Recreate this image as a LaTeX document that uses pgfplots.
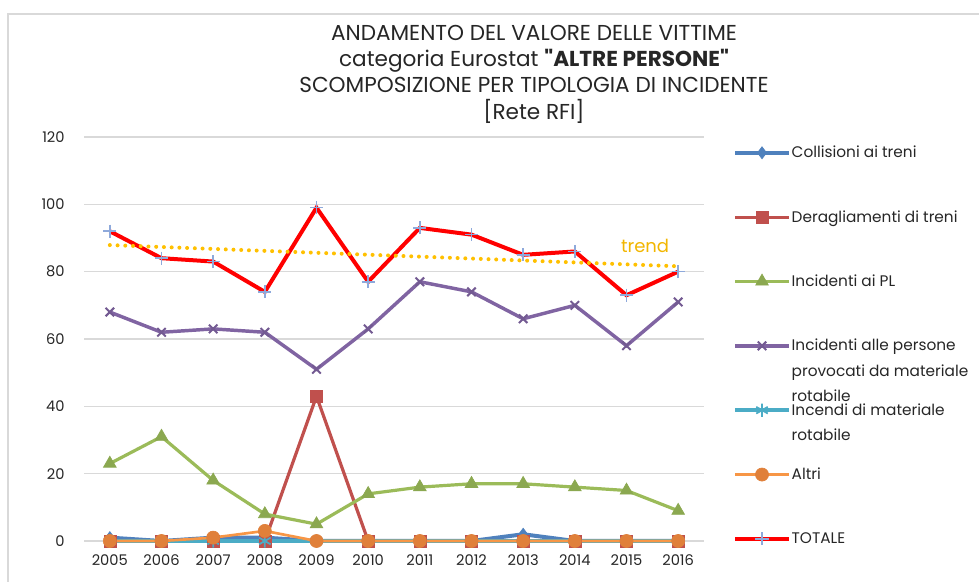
\documentclass[border=0pt]{standalone}
\usepackage{fontspec}
\setmainfont{Poppins}[Ligatures=TeXOff]
\usepackage{pgfplots}
\pgfplotsset{compat=1.18}
\definecolor{cBlue}{HTML}{4F81BD}
\definecolor{cRed}{HTML}{C0504D}
\definecolor{cGreen}{HTML}{9BBB59}
\definecolor{cPurple}{HTML}{8064A2}
\definecolor{cTeal}{HTML}{4BACC6}
\definecolor{cOrange}{HTML}{F79646}
\definecolor{cOrangeM}{HTML}{E0803A}
\definecolor{cTot}{HTML}{FF0000}
\definecolor{cTotM}{HTML}{8EA9DB}
\definecolor{cTrend}{HTML}{FFC000}
\definecolor{cGrid}{HTML}{D9D9D9}
\definecolor{cText}{HTML}{262626}
\newcommand{\lentry}[1]{\strut\smash{\parbox[t]{6cm}{\raggedright #1}}}
\begin{document}
\begin{tikzpicture}
\useasboundingbox (0,0) rectangle (734.25pt,436.5pt);
\draw[cGrid, line width=1pt] (6pt,0) -- (6pt,426pt) -- (734.25pt,426pt);
\node[align=center, font=\fontsize{16.2}{19.7}\selectfont, text=cText] at (400.5pt,381pt)
  {ANDAMENTO DEL VALORE DELLE VITTIME\\categoria Eurostat \textbf{"ALTRE PERSONE"}\\SCOMPOSIZIONE PER TIPOLOGIA DI INCIDENTE\\{[}Rete RFI{]}};
\begin{axis}[
  at={(63pt,30.75pt)}, anchor=south west,
  scale only axis, width=465pt, height=303pt,
  xmin=-0.5, xmax=11.5, ymin=0, ymax=120,
  xtick={0,...,11},
  xticklabels={2005,2006,2007,2008,2009,2010,2011,2012,2013,2014,2015,2016},
  ytick={0,20,...,120},
  ymajorgrids, grid style={cGrid, line width=0.9pt},
  axis line style={draw=none},
  major tick length=0pt,
  tick label style={font=\fontsize{11}{13}\selectfont, text=cText},
  /pgf/number format/assume math mode=true,
  yticklabel style={xshift=-11pt},
  xticklabel style={yshift=-6.5pt},
  clip=false,
  legend style={at={(1.0468,0.9926)}, anchor=north west, draw=none, fill=none,
    inner sep=0pt, outer sep=0pt, row sep=33.4pt, column sep=0.5pt,
    font=\fontsize{11.5}{19.1}\selectfont, text=cText,
    cells={anchor=base west}, nodes={inner sep=0pt}},
  legend image code/.code={\draw[mark repeat=2,mark phase=2,#1] plot coordinates {(0pt,3.8pt) (20.25pt,3.8pt) (40.5pt,3.8pt)};},
]
\addplot[cBlue, line width=3pt, mark=diamond*, mark size=4.5pt, mark options={solid, fill=cBlue, draw=cBlue, line width=0.5pt}]
  coordinates {(0,1) (1,0) (2,1) (3,1) (4,0) (5,0) (6,0) (7,0) (8,2) (9,0) (10,0) (11,0)};
\addlegendentry{\lentry{Collisioni ai treni}}
\addplot[cRed, line width=2.4pt, mark=square*, mark size=4.5pt, mark options={solid, fill=cRed, draw=cRed, line width=0.5pt}]
  coordinates {(0,0) (1,0) (2,0) (3,0) (4,43) (5,0) (6,0) (7,0) (8,0) (9,0) (10,0) (11,0)};
\addlegendentry{\lentry{Deragliamenti di treni}}
\addplot[cGreen, line width=2.4pt, mark=triangle*, mark size=5.5pt, mark options={solid, fill=cGreen!90!black, draw=cGreen!90!black, line width=0.5pt}]
  coordinates {(0,23) (1,31) (2,18) (3,8) (4,5) (5,14) (6,16) (7,17) (8,17) (9,16) (10,15) (11,9)};
\addlegendentry{\lentry{Incidenti ai PL}}
\addplot[cPurple, line width=2.6pt, mark=x, mark size=4.5pt, mark options={solid, draw=cPurple!90!black, line width=1.5pt}]
  coordinates {(0,68) (1,62) (2,63) (3,62) (4,51) (5,63) (6,77) (7,74) (8,66) (9,70) (10,58) (11,71)};
\addlegendentry{\lentry{Incidenti alle persone\\provocati da materiale\\rotabile}}
\addplot[cTeal, line width=3pt, mark=asterisk, mark size=5pt, mark options={solid, draw=cTeal, line width=1.3pt}]
  coordinates {(0,0) (1,0) (2,0) (3,0) (4,0) (5,0) (6,0) (7,0) (8,0) (9,0) (10,0) (11,0)};
\addlegendentry{\lentry{Incendi di materiale\\rotabile}}
\addplot[cOrange, line width=2pt, mark=*, mark size=4.9pt, mark options={solid, fill=cOrangeM, draw=cOrangeM, line width=0.5pt}]
  coordinates {(0,0) (1,0) (2,1) (3,3) (4,0) (5,0) (6,0) (7,0) (8,0) (9,0) (10,0) (11,0)};
\addlegendentry{\lentry{Altri}}
\addplot[cTot, line width=3pt, mark=+, mark size=4.9pt, mark options={solid, draw=cTotM, line width=1.2pt}]
  coordinates {(0,92) (1,84) (2,83) (3,74) (4,99) (5,77) (6,93) (7,91) (8,85) (9,86) (10,73) (11,80)};
\addlegendentry{\lentry{TOTALE}}
\addplot[cTrend, line width=3pt, line cap=round, dash pattern=on 0pt off 5.8pt, forget plot]
  coordinates {(0,87.9) (11,81.6)};
\node[text=cTrend!95!black, font=\fontsize{13.5}{15}\selectfont] at (axis cs:10.36,87.6) {trend};
\end{axis}
\end{tikzpicture}
\end{document}
